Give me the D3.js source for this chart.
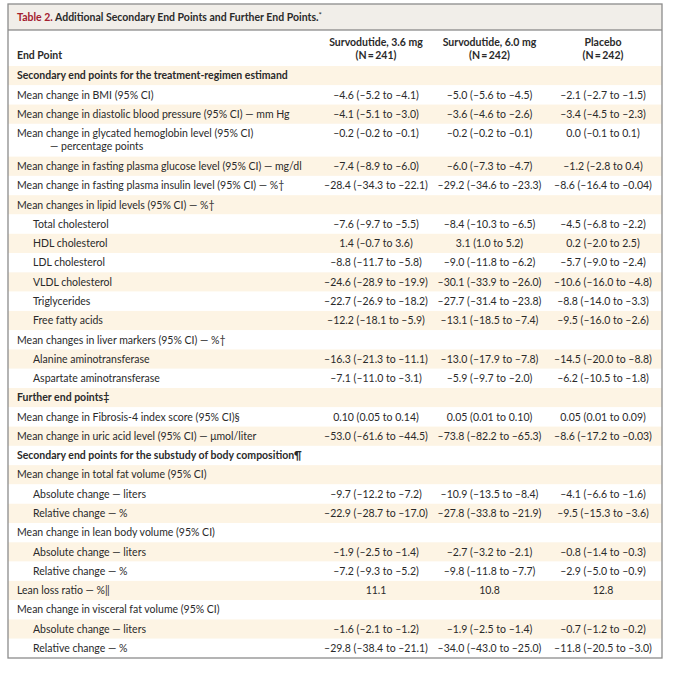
<!DOCTYPE html>
<html>
<head>
<meta charset="utf-8">
<script src="https://cdn.jsdelivr.net/npm/d3@7"></script>
<style>
  body { margin: 0; background: #fff; }
  text { font-family: Lato, "Open Sans", sans-serif; fill: #2a2a2a; }
</style>
</head>
<body>
<script>
// данные таблицы
const title = 'Additional Secondary End Points and Further End Points.'
const groups = ['Survodutide, 3.6 mg', 'Survodutide, 6.0 mg', 'Placebo']
const groupN = ['(N\u2009=\u2009241)', '(N\u2009=\u2009242)', '(N\u2009=\u2009242)']

// уровень строки: 0 - раздел (жирный), 1 - обычная, 2 - с отступом
const endPoints = [
  'Secondary end points for the treatment-regimen estimand',
  'Mean change in BMI (95% CI)',
  'Mean change in diastolic blood pressure (95% CI) — mm Hg',
  'Mean change in glycated hemoglobin level (95% CI)|— percentage points',
  'Mean change in fasting plasma glucose level (95% CI) — mg/dl',
  'Mean change in fasting plasma insulin level (95% CI) — %†',
  'Mean changes in lipid levels (95% CI) — %†',
  'Total cholesterol',
  'HDL cholesterol',
  'LDL cholesterol',
  'VLDL cholesterol',
  'Triglycerides',
  'Free fatty acids',
  'Mean changes in liver markers (95% CI) — %†',
  'Alanine aminotransferase',
  'Aspartate aminotransferase',
  'Further end points‡',
  'Mean change in Fibrosis-4 index score (95% CI)§',
  'Mean change in uric acid level (95% CI) — μmol/liter',
  'Secondary end points for the substudy of body composition¶',
  'Mean change in total fat volume (95% CI)',
  'Absolute change — liters',
  'Relative change — %',
  'Mean change in lean body volume (95% CI)',
  'Absolute change — liters',
  'Relative change — %',
  'Lean loss ratio — %‖',
  'Mean change in visceral fat volume (95% CI)',
  'Absolute change — liters',
  'Relative change — %'
]
const levels = [0, 1, 1, 1, 1, 1, 1, 2, 2, 2, 2, 2, 2, 1, 2, 2, 0, 1, 1, 0, 1, 2, 2, 1, 2, 2, 1, 1, 2, 2]

const dose36 = ['', '–4.6 (–5.2 to –4.1)', '–4.1 (–5.1 to –3.0)', '–0.2 (–0.2 to –0.1)', '–7.4 (–8.9 to –6.0)',
  '–28.4 (–34.3 to –22.1)', '', '–7.6 (–9.7 to –5.5)', '1.4 (–0.7 to 3.6)', '–8.8 (–11.7 to –5.8)',
  '–24.6 (–28.9 to –19.9)', '–22.7 (–26.9 to –18.2)', '–12.2 (–18.1 to –5.9)', '', '–16.3 (–21.3 to –11.1)',
  '–7.1 (–11.0 to –3.1)', '', '0.10 (0.05 to 0.14)', '–53.0 (–61.6 to –44.5)', '', '',
  '–9.7 (–12.2 to –7.2)', '–22.9 (–28.7 to –17.0)', '', '–1.9 (–2.5 to –1.4)', '–7.2 (–9.3 to –5.2)',
  '11.1', '', '–1.6 (–2.1 to –1.2)', '–29.8 (–38.4 to –21.1)']
const dose60 = ['', '–5.0 (–5.6 to –4.5)', '–3.6 (–4.6 to –2.6)', '–0.2 (–0.2 to –0.1)', '–6.0 (–7.3 to –4.7)',
  '–29.2 (–34.6 to –23.3)', '', '–8.4 (–10.3 to –6.5)', '3.1 (1.0 to 5.2)', '–9.0 (–11.8 to –6.2)',
  '–30.1 (–33.9 to –26.0)', '–27.7 (–31.4 to –23.8)', '–13.1 (–18.5 to –7.4)', '', '–13.0 (–17.9 to –7.8)',
  '–5.9 (–9.7 to –2.0)', '', '0.05 (0.01 to 0.10)', '–73.8 (–82.2 to –65.3)', '', '',
  '–10.9 (–13.5 to –8.4)', '–27.8 (–33.8 to –21.9)', '', '–2.7 (–3.2 to –2.1)', '–9.8 (–11.8 to –7.7)',
  '10.8', '', '–1.9 (–2.5 to –1.4)', '–34.0 (–43.0 to –25.0)']
const placebo = ['', '–2.1 (–2.7 to –1.5)', '–3.4 (–4.5 to –2.3)', '0.0 (–0.1 to 0.1)', '–1.2 (–2.8 to 0.4)',
  '–8.6 (–16.4 to –0.04)', '', '–4.5 (–6.8 to –2.2)', '0.2 (–2.0 to 2.5)', '–5.7 (–9.0 to –2.4)',
  '–10.6 (–16.0 to –4.8)', '–8.8 (–14.0 to –3.3)', '–9.5 (–16.0 to –2.6)', '', '–14.5 (–20.0 to –8.8)',
  '–6.2 (–10.5 to –1.8)', '', '0.05 (0.01 to 0.09)', '–8.6 (–17.2 to –0.03)', '', '',
  '–4.1 (–6.6 to –1.6)', '–9.5 (–15.3 to –3.6)', '', '–0.8 (–1.4 to –0.3)', '–2.9 (–5.0 to –0.9)',
  '12.8', '', '–0.7 (–1.2 to –0.2)', '–11.8 (–20.5 to –3.0)']

const width = 680, height = 673
const frame = {left: 8, right: 662, top: 4, bottom: 658}
const titleBottom = 30, bodyTop = 66
const fontSize = 10.5
const shade = '#fdf4e4'

const svg = d3.select('body').append('svg').attr('width', width).attr('height', height)

// высота строки в условных единицах (двухстрочная строка выше)
const units = endPoints.map(d => d.includes('|') ? 1.7 : 1)
const offsets = d3.cumsum([0, ...units])
const y = d3.scaleLinear([0, d3.sum(units)], [bodyTop, frame.bottom])
const x = d3.scalePoint(groups, [376, 603])
const indent = [17, 17, 33]

const rows = endPoints.map((label, i) => ({
  lines: label.split('|'), level: levels[i], values: [dose36[i], dose60[i], placebo[i]],
  y0: y(offsets[i]), y1: y(offsets[i + 1])
}))

// фон заголовка
svg.append('rect').attr('x', frame.left).attr('y', frame.top)
  .attr('width', frame.right - frame.left).attr('height', titleBottom - frame.top)
  .attr('fill', '#f1eee9')

// полосы строк
svg.append('g').selectAll('rect').data(rows).join('rect')
  .attr('x', frame.left).attr('width', frame.right - frame.left)
  .attr('y', d => d.y0).attr('height', d => d.y1 - d.y0)
  .attr('fill', (d, i) => i % 2 === 0 ? shade : '#fff')

svg.append('line').attr('x1', frame.left).attr('x2', frame.right)
  .attr('y1', titleBottom).attr('y2', titleBottom).attr('stroke', '#6b6b6b').attr('stroke-width', 1)

// заголовок таблицы
const t = svg.append('text').attr('x', 17).attr('y', 21)
  .style('font-size', fontSize + 'px').style('font-weight', 700)
t.append('tspan').text('Table 2. ').style('fill', '#a3202f')
t.append('tspan').text(title)
t.append('tspan').text('*').attr('dy', -3).style('font-size', '8px').style('font-weight', 400)

// шапка
svg.append('text').attr('x', 17).attr('y', 59).text('End Point')
  .style('font-size', fontSize + 'px').style('font-weight', 700)
const head = svg.append('g').selectAll('text').data(groups).join('text')
  .attr('text-anchor', 'middle').attr('x', d => x(d))
  .style('font-size', fontSize + 'px').style('font-weight', 700)
head.append('tspan').attr('x', d => x(d)).attr('y', 46).text(d => d)
head.append('tspan').attr('x', d => x(d)).attr('y', 59).text((d, i) => groupN[i])

// строки
const unitH = y(1) - y(0)
const g = svg.append('g').selectAll('g').data(rows).join('g')
  .attr('transform', d => `translate(0,${d.y0 + unitH / 2})`)

g.each(function (d) {
  const row = d3.select(this)
  d.lines.forEach((line, k) => {
    row.append('text')
      .attr('x', k === 0 ? indent[d.level] : 50)
      .attr('y', k * 13).attr('dy', '0.35em')
      .style('font-size', fontSize + 'px')
      .style('font-weight', d.level === 0 ? 700 : 400)
      .text(line)
  })
  row.selectAll('text.val').data(d.values).join('text').attr('class', 'val')
    .attr('x', (v, i) => x(groups[i])).attr('dy', '0.35em')
    .attr('text-anchor', 'middle')
    .style('font-size', fontSize + 'px')
    .text(v => v)
})

// рамка
svg.append('rect').attr('x', frame.left).attr('y', frame.top)
  .attr('width', frame.right - frame.left).attr('height', frame.bottom - frame.top)
  .attr('fill', 'none').attr('stroke', '#8c8c8c').attr('stroke-width', 1.3)
</script>
</body>
</html>
